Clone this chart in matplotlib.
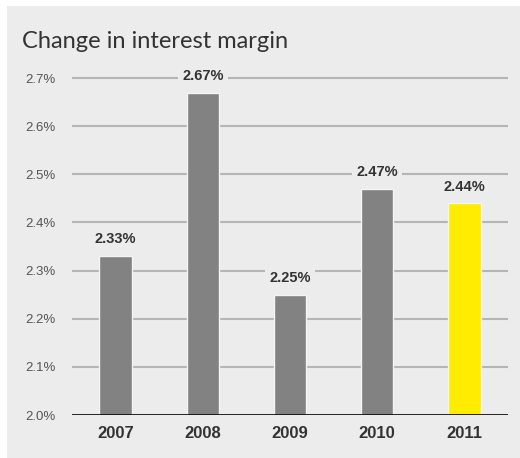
import matplotlib.pyplot as plt
from matplotlib.patches import Rectangle

years = ['2007', '2008', '2009', '2010', '2011']
margin = [2.33, 2.67, 2.25, 2.47, 2.44]
bar_colors = ['#828282', '#828282', '#828282', '#828282', '#ffec00']
yticks = [2.0, 2.1, 2.2, 2.3, 2.4, 2.5, 2.6, 2.7]

W, H = 520, 458
fig = plt.figure(figsize=(W / 100, H / 100), dpi=100)
fig.patch.set_facecolor('#ececec')
# white strips on the top and left edge
fig.patches.append(Rectangle((0, 1 - 6 / H), 1, 6 / H, transform=fig.transFigure,
                             facecolor='white', edgecolor='none'))
fig.patches.append(Rectangle((0, 0), 7 / W, 1, transform=fig.transFigure,
                             facecolor='white', edgecolor='none'))

ax = fig.add_axes([72 / W, (H - 415) / H, 436 / W, (415 - 54) / H])
ax.set_facecolor('none')

x = range(len(years))
ax.bar(x, margin, width=0.37, bottom=0, color=bar_colors, edgecolor='#f4f4f4', linewidth=1, zorder=3)
ax.set_xlim(-0.5, 4.5)
ax.set_ylim(2.0, 2.75)

for v in yticks[1:]:
    ax.axhline(v, color='#b5b5b5', linewidth=1.5, zorder=1)
ax.axhline(2.0, color='#111111', linewidth=2, zorder=4)

for sp in ax.spines.values():
    sp.set_visible(False)

ax.set_yticks(yticks)
ax.set_yticklabels([f'{v:.1f}%' for v in yticks], fontsize=9.5, color='#555555',
                   family='Liberation Sans')
ax.set_xticks(list(x))
ax.set_xticklabels(years, fontsize=12, fontweight='bold', color='#333333',
                   family='Liberation Sans')
ax.tick_params(axis='y', length=0, pad=12)
ax.tick_params(axis='x', length=0, pad=8)

for i, v in enumerate(margin):
    ax.annotate(f'{v:.2f}%', (i, v), xytext=(0, 12), textcoords='offset points',
                ha='center', va='center', fontsize=10.5, fontweight='bold', color='#333333',
                family='Liberation Sans', zorder=5,
                bbox=dict(boxstyle='square,pad=0.3', facecolor='#ececec', edgecolor='none'))

fig.text(22 / W, 1 - 42 / H, 'Change in interest margin', fontsize=17, color='#333333',
         family=['Lato', 'Liberation Sans'], va='center', ha='left')

fig.savefig('out.png', dpi=100)
